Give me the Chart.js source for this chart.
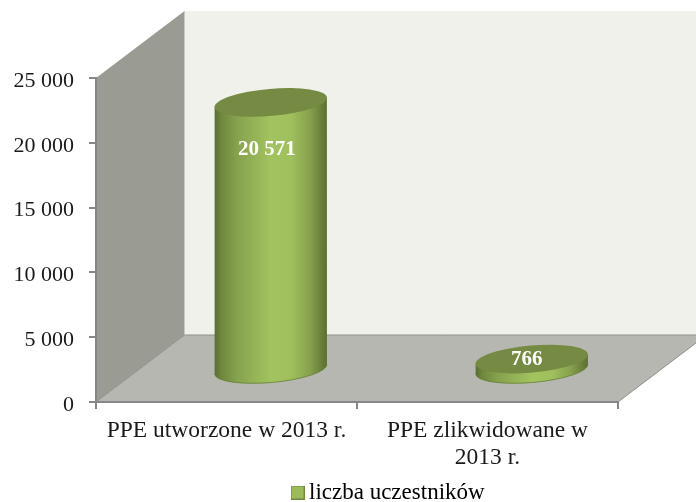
<!DOCTYPE html>
<html><head><meta charset="utf-8">
<style>html,body{margin:0;padding:0;background:#fff}#w{width:696px;height:502px;position:relative}</style>
<script src="https://cdn.jsdelivr.net/npm/chart.js@4"></script>
</head><body><div id="w"><canvas id="c" width="696" height="502"></canvas></div>
<script>
const categories = ["PPE utworzone w 2013 r.", ["PPE zlikwidowane w", "2013 r."]];
const seriesName = "liczba uczestników";
const seriesValues = [20571, 766];
const valueLabels = ["20 571", "766"];
const yMax = 25000, yStep = 5000;
const labelOffsetX = [-4, -5];
const labelOffsetY = [47, 1];

const DEPTH_X = 88.5, DEPTH_Y = 67;
const FONT = '"Liberation Serif", serif';
const fmt = v => String(v).replace(/\B(?=(\d{3})+$)/g, ' ');

function cylGrad(ctx, l, r, stops){
  const g = ctx.createLinearGradient(l, 0, r, 0);
  stops.forEach(s => g.addColorStop(s[0], s[1]));
  return g;
}
const TILT = -5 * Math.PI / 180;
const swatch = document.createElement('canvas');
swatch.width = 14; swatch.height = 14;
(function(){
  const s = swatch.getContext('2d');
  s.fillStyle = '#9bbb59'; s.fillRect(0,0,14,14);
  s.strokeStyle = '#71893f'; s.lineWidth = 1; s.strokeRect(0.5,0.5,13,13);
})();
const walls = {
  id: 'walls',
  afterLayout(chart){
    const lg = chart.legend;
    const dx = 295.5 - lg.left - (lg.width - lg.lineWidths[0])/2;
    lg.left += dx; lg.right += dx;
    const dy = 514 - lg.bottom;
    lg.top += dy; lg.bottom += dy;
  },
  beforeDraw(chart){
    const {ctx, chartArea:a} = chart;
    const L=a.left, R=a.right, T=a.top, B=a.bottom;
    ctx.save();
    ctx.fillStyle = '#eff1ea';
    ctx.fillRect(L+DEPTH_X, T-DEPTH_Y, R-L+20, B-T);
    ctx.fillStyle = '#9a9c94';
    ctx.beginPath();
    ctx.moveTo(L,T); ctx.lineTo(L+DEPTH_X,T-DEPTH_Y); ctx.lineTo(L+DEPTH_X,B-DEPTH_Y); ctx.lineTo(L,B);
    ctx.closePath(); ctx.fill();
    ctx.fillStyle = '#b5b7b0';
    ctx.beginPath();
    ctx.moveTo(L,B); ctx.lineTo(R,B); ctx.lineTo(R+DEPTH_X,B-DEPTH_Y); ctx.lineTo(L+DEPTH_X,B-DEPTH_Y);
    ctx.closePath(); ctx.fill();
    ctx.strokeStyle = '#8f918b'; ctx.lineWidth = 1;
    ctx.beginPath();
    ctx.moveTo(L,B); ctx.lineTo(L+DEPTH_X,B-DEPTH_Y); ctx.lineTo(R+DEPTH_X,B-DEPTH_Y);
    ctx.moveTo(R,B); ctx.lineTo(R+DEPTH_X,B-DEPTH_Y);
    ctx.stroke();
    ctx.restore();
  }
};
const cylinders = {
  id: 'cylinders',
  afterDatasetsDraw(chart){
    const {ctx} = chart;
    const meta = chart.getDatasetMeta(0);
    const zero = chart.scales.y.getPixelForValue(0);
    meta.data.forEach((bar, i) => {
      const a = bar.width/2, b = 13.5;
      const cx = bar.x + DEPTH_X/2, top = bar.y - 33, bot = zero - 33;
      const l = cx - a, r = cx + a;
      const dy = 4.7;
      ctx.save();
      const body = new Path2D();
      body.moveTo(l, top + dy);
      body.lineTo(l, bot + dy);
      body.ellipse(cx, bot, a+0.3, b, TILT, Math.PI, 0, true);
      body.lineTo(r, top - dy);
      body.closePath();
      ctx.fillStyle = cylGrad(ctx, l, r, [[0,'#5a6e32'],[0.06,'#6f873d'],[0.2,'#86a24e'],[0.5,'#a2c35f'],[0.68,'#a0c05d'],[0.85,'#86a04d'],[1,'#5c6f33']]);
      ctx.fill(body);
      ctx.strokeStyle = 'rgba(100,128,50,0.8)';
      ctx.lineWidth = 1;
      ctx.beginPath();
      ctx.ellipse(cx, bot, a+0.3, b, TILT, Math.PI, 0, true);
      ctx.stroke();
      ctx.fillStyle = '#758a42';
      ctx.beginPath();
      ctx.ellipse(cx, top, a+0.3, b, TILT, 0, Math.PI*2);
      ctx.fill();
      ctx.fillStyle = '#fff';
      ctx.font = 'bold 21px ' + FONT;
      ctx.textAlign = 'center'; ctx.textBaseline = 'middle';
      ctx.fillText(valueLabels[i], cx + labelOffsetX[i], top + labelOffsetY[i]);
      ctx.restore();
    });
  }
};

new Chart(document.getElementById('c'), {
  type: 'bar',
  data: { labels: categories, datasets: [{
    label: seriesName, data: seriesValues,
    backgroundColor: 'rgba(0,0,0,0)', borderWidth: 0,
    barPercentage: 0.43, categoryPercentage: 1
  }]},
  plugins: [walls, cylinders],
  options: {
    responsive: false, animation: false,
    layout: { padding: { top: 78, right: 78, left: 0, bottom: 0 } },
    plugins: {
      tooltip: { enabled: false },
      legend: {
        position: 'bottom',
        labels: {
          usePointStyle: true, boxWidth: 0.01, boxHeight: 14, padding: 4, color: '#1a1a1a',
          font: { family: FONT, size: 23 },
          generateLabels: () => [{ text: seriesName, pointStyle: swatch, hidden: false, datasetIndex: 0 }]
        }
      }
    },
    scales: {
      x: {
        afterFit(s){ s.height = 63; },
        grid: { drawOnChartArea: false, color: '#868686', tickLength: 7, lineWidth: 2 },
        border: { color: '#868686', width: 2 },
        ticks: { color: '#1a1a1a', font: { family: FONT, size: 23.5, lineHeight: 1.13 }, maxRotation: 0, padding: 9 }
      },
      y: {
        min: 0, max: yMax,
        afterFit(s){ s.width = 96; },
        grid: { drawOnChartArea: false, color: '#868686', tickLength: 7, lineWidth: 2 },
        border: { color: '#868686', width: 2 },
        ticks: { stepSize: yStep, color: '#1a1a1a', font: { family: FONT, size: 22 }, padding: 15, labelOffset: 3, callback: v => fmt(v) }
      }
    }
  }
});
</script></body></html>
